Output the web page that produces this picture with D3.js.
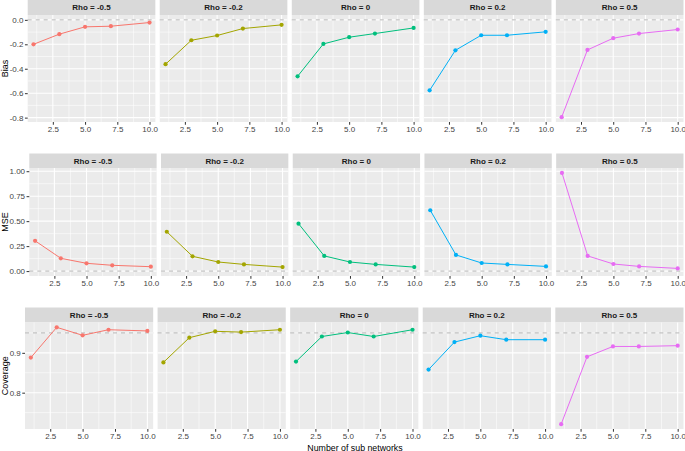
<!DOCTYPE html>
<html>
<head>
<meta charset="utf-8">
<script src="https://cdn.jsdelivr.net/npm/d3@7"></script>
<style>
  body { margin: 0; background: #fff; }
  text { font-family: "Liberation Sans", Arial, sans-serif; }
</style>
</head>
<body>
<svg id="chart"></svg>
<script>
// data
const nSub = [1, 3, 5, 7, 10];
const rhoLabels = ["Rho = -0.5", "Rho = -0.2", "Rho = 0", "Rho = 0.2", "Rho = 0.5"];
const colors = ["#F8766D", "#A3A500", "#00BF7D", "#00B0F6", "#E76BF3"];
const xTicks = [2.5, 5.0, 7.5, 10.0];

const biasValues = [
  [-0.200, -0.117, -0.057, -0.052, -0.022],
  [-0.363, -0.167, -0.128, -0.071, -0.041],
  [-0.462, -0.197, -0.142, -0.112, -0.066],
  [-0.577, -0.249, -0.126, -0.126, -0.098],
  [-0.796, -0.246, -0.150, -0.112, -0.079]
];
const mseValues = [
  [0.303, 0.128, 0.078, 0.058, 0.044],
  [0.394, 0.148, 0.091, 0.067, 0.040],
  [0.475, 0.152, 0.091, 0.067, 0.040],
  [0.609, 0.162, 0.081, 0.067, 0.047],
  [0.983, 0.152, 0.071, 0.047, 0.027]
];
const coverageValues = [
  [0.888, 0.964, 0.944, 0.958, 0.955],
  [0.876, 0.938, 0.954, 0.952, 0.958],
  [0.878, 0.941, 0.951, 0.941, 0.958],
  [0.858, 0.927, 0.943, 0.933, 0.933],
  [0.721, 0.890, 0.916, 0.916, 0.918]
];

const biasTicks = [0.0, -0.2, -0.4, -0.6, -0.8];
const mseTicks = [0.00, 0.25, 0.50, 0.75, 1.00];
const coverageTicks = [0.8, 0.9];

const rows = [
  { title: "Bias", values: biasValues, ticks: biasTicks, digits: 1, ref: 0,
    left: 27.7, stripTop: 0, top: 15, bottom: 122 },
  { title: "MSE", values: mseValues, ticks: mseTicks, digits: 2, ref: 0,
    left: 29.3, stripTop: 153.5, top: 168, bottom: 276 },
  { title: "Coverage", values: coverageValues, ticks: coverageTicks, digits: 1, ref: 0.95,
    left: 25, stripTop: 307.5, top: 322.5, bottom: 429 }
];

const W = 685, H = 451;
const right = 683.5, gap = 4.4;
const tickFont = '"Liberation Sans", Arial, sans-serif';

const svg = d3.select('#chart').attr('width', W).attr('height', H);

// minor breaks between majors, like ggplot does
function minorBreaks(major, domain) {
  const step = major[1] - major[0];
  const out = [];
  const lo = Math.min(domain[0], domain[1]), hi = Math.max(domain[0], domain[1]);
  for (let v = d3.min(major) - step / 2; v <= hi; v += Math.abs(step)) {
    if (v >= lo) out.push(v);
  }
  return out;
}

rows.forEach(row => {
  const pw = (right - row.left - 4 * gap) / 5;
  const all = d3.merge(row.values).concat([row.ref]);
  const ext = d3.extent(all);
  const pad = (ext[1] - ext[0]) * 0.05;
  const y = d3.scaleLinear().domain([ext[0] - pad, ext[1] + pad]).range([row.bottom, row.top]);
  const yMinor = minorBreaks(row.ticks.slice().sort((a, b) => a - b), y.domain());

  // y axis title
  svg.append('text')
    .attr('transform', 'translate(7.5,' + (row.top + row.bottom) / 2 + ') rotate(-90)')
    .attr('text-anchor', 'middle')
    .attr('font-size', 9)
    .attr('fill', '#000')
    .text(row.title);

  row.values.forEach((vals, j) => {
    const x0 = row.left + j * (pw + gap);
    const x = d3.scaleLinear().domain([0.55, 10.45]).range([x0, x0 + pw]);
    const xMinor = [1.25, 3.75, 6.25, 8.75];
    const g = svg.append('g');

    // strip
    g.append('rect')
      .attr('x', x0).attr('y', row.stripTop)
      .attr('width', pw).attr('height', row.top - row.stripTop)
      .attr('fill', '#D9D9D9');
    g.append('text')
      .attr('x', x0 + pw / 2).attr('y', (row.stripTop + row.top) / 2)
      .attr('dy', '0.35em')
      .attr('text-anchor', 'middle')
      .attr('font-size', 8)
      .attr('font-weight', 'bold')
      .attr('fill', '#1A1A1A')
      .text(rhoLabels[j]);

    // panel
    g.append('rect')
      .attr('x', x0).attr('y', row.top)
      .attr('width', pw).attr('height', row.bottom - row.top)
      .attr('fill', '#EBEBEB');

    g.selectAll('.ymin').data(yMinor).enter().append('line')
      .attr('x1', x0).attr('x2', x0 + pw)
      .attr('y1', d => y(d)).attr('y2', d => y(d))
      .attr('stroke', '#fff').attr('stroke-width', 0.55);
    g.selectAll('.xmin').data(xMinor).enter().append('line')
      .attr('x1', d => x(d)).attr('x2', d => x(d))
      .attr('y1', row.top).attr('y2', row.bottom)
      .attr('stroke', '#fff').attr('stroke-width', 0.55);
    g.selectAll('.ymaj').data(row.ticks).enter().append('line')
      .attr('x1', x0).attr('x2', x0 + pw)
      .attr('y1', d => y(d)).attr('y2', d => y(d))
      .attr('stroke', '#fff').attr('stroke-width', 1.07);
    g.selectAll('.xmaj').data(xTicks).enter().append('line')
      .attr('x1', d => x(d)).attr('x2', d => x(d))
      .attr('y1', row.top).attr('y2', row.bottom)
      .attr('stroke', '#fff').attr('stroke-width', 1.07);

    // reference line
    g.append('line')
      .attr('x1', x0).attr('x2', x0 + pw)
      .attr('y1', y(row.ref)).attr('y2', y(row.ref))
      .attr('stroke', '#A6A6A6').attr('stroke-width', 0.8)
      .attr('stroke-dasharray', '4,4');

    // series
    const pts = nSub.map((n, i) => [n, vals[i]]);
    g.append('path')
      .datum(pts)
      .attr('d', d3.line().x(d => x(d[0])).y(d => y(d[1])))
      .attr('fill', 'none')
      .attr('stroke', colors[j])
      .attr('stroke-width', 1);
    g.selectAll('circle').data(pts).enter().append('circle')
      .attr('cx', d => x(d[0])).attr('cy', d => y(d[1]))
      .attr('r', 2.1)
      .attr('fill', colors[j]);

    // x axis
    const xa = g.append('g')
      .attr('transform', 'translate(0,' + row.bottom + ')')
      .call(d3.axisBottom(x).tickValues(xTicks).tickSize(2.75).tickPadding(1.5)
        .tickFormat(d => d.toFixed(1)));
    xa.select('.domain').remove();
    xa.selectAll('line').attr('stroke', '#333333');
    xa.selectAll('text').attr('font-size', 8).attr('fill', '#444')
      .attr('font-family', tickFont);

    // y axis on first panel only
    if (j === 0) {
      const ya = g.append('g')
        .attr('transform', 'translate(' + x0 + ',0)')
        .call(d3.axisLeft(y).tickValues(row.ticks).tickSize(2.75).tickPadding(1.5)
          .tickFormat(d => d.toFixed(row.digits)));
      ya.select('.domain').remove();
      ya.selectAll('line').attr('stroke', '#333333');
      ya.selectAll('text').attr('font-size', 8).attr('fill', '#444')
        .attr('font-family', tickFont);
    }
  });
});

// x axis title
svg.append('text')
  .attr('x', 355).attr('y', 450.5)
  .attr('text-anchor', 'middle')
  .attr('font-size', 8.8)
  .attr('fill', '#000')
  .text('Number of sub networks');
</script>
</body>
</html>
